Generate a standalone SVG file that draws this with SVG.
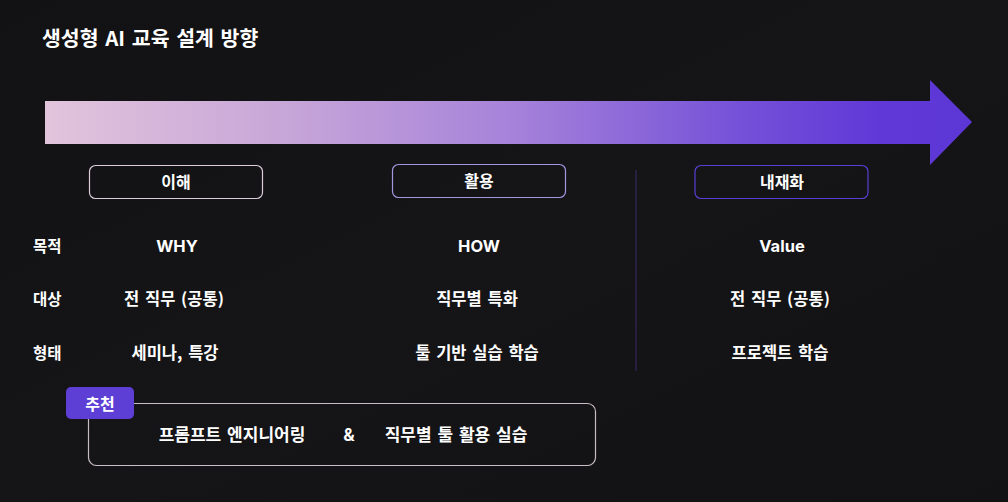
<svg xmlns="http://www.w3.org/2000/svg" width="1008" height="502" viewBox="0 0 1008 502">
<defs>
<linearGradient id="arrowGrad" x1="45" y1="0" x2="972" y2="0" gradientUnits="userSpaceOnUse">
<stop offset="0" stop-color="#e2c4dc"/>
<stop offset="0.25" stop-color="#c8a7d8"/>
<stop offset="0.5" stop-color="#a783da"/>
<stop offset="0.75" stop-color="#7551d8"/>
<stop offset="0.9" stop-color="#6038d8"/>
<stop offset="1" stop-color="#5d37d6"/>
</linearGradient>
<linearGradient id="bg" x1="0" y1="0" x2="1" y2="1">
<stop offset="0" stop-color="#121113"/>
<stop offset="0.5" stop-color="#151416"/>
<stop offset="1" stop-color="#121113"/>
</linearGradient>
<style>
.t{font-family:"Noto Sans CJK KR","Inter",sans-serif;font-weight:700;fill:#ffffff;}
.lat{font-family:"Inter","Noto Sans CJK KR",sans-serif;}
.lbl{font-size:16.5px;text-anchor:middle;word-spacing:2px;}
.hd{font-size:16px;text-anchor:middle;}
.row{font-size:15.5px;}
.bt{font-size:17px;text-anchor:middle;word-spacing:2px;}
.hdr{fill:none;stroke-width:1.2;}
</style>
</defs>
<rect width="1008" height="502" fill="url(#bg)"/>
<text class="t" x="42" y="46" font-size="20.5" style="word-spacing:2px">생성형 AI 교육 설계 방향</text>

<g id="arrow">
<polygon points="45,101 930,101 930,80 972,122 930,165 930,144 45,144" fill="url(#arrowGrad)"/>
</g>

<g id="connectors">
<line x1="636" y1="170" x2="636" y2="371" stroke="#3a2a6a" stroke-width="1"/>
</g>

<g id="stage1">
<rect class="hdr" x="89.5" y="165.5" width="173" height="33" rx="6" stroke="#dccbd8"/>
<text class="t hd" x="176" y="187.5">이해</text>
</g>
<g id="stage2">
<rect class="hdr" x="392.5" y="164.5" width="173" height="33" rx="6" stroke="#a596e2"/>
<text class="t hd" x="479" y="186.5">활용</text>
</g>
<g id="stage3">
<rect class="hdr" x="695" y="165.5" width="173" height="33" rx="6" stroke="#5a3ed6"/>
<text class="t hd" x="782" y="187.5">내재화</text>
</g>

<g id="rowlabels">
<text class="t row" x="33" y="251.5">목적</text>
<text class="t row" x="33" y="304.5">대상</text>
<text class="t row" x="33" y="358.5">형태</text>
</g>

<g id="col1">
<text class="t lbl lat" x="177" y="252">WHY</text>
<text class="t lbl" x="174" y="305">전 직무 (공통)</text>
<text class="t lbl" x="175" y="359">세미나, 특강</text>
</g>
<g id="col2">
<text class="t lbl lat" x="479" y="252">HOW</text>
<text class="t lbl" x="477" y="305">직무별 특화</text>
<text class="t lbl" x="477" y="359">툴 기반 실습 학습</text>
</g>
<g id="col3">
<text class="t lbl lat" x="782" y="252">Value</text>
<text class="t lbl" x="780" y="305">전 직무 (공통)</text>
<text class="t lbl" x="780" y="359">프로젝트 학습</text>
</g>

<g id="recommend">
<rect x="88.5" y="403.5" width="507" height="62" rx="8" fill="none" stroke="#c9bcc4" stroke-width="1.2"/>
<rect x="66" y="387" width="68" height="32" rx="5" fill="#5e3fd6"/>
<text class="t hd" x="100" y="409.5" font-size="16.5">추천</text>
<text class="t bt" x="232" y="441">프롬프트 엔지니어링</text>
<text class="t bt lat" x="349" y="441">&amp;</text>
<text class="t bt" x="456" y="441">직무별 툴 활용 실습</text>
</g>
</svg>
